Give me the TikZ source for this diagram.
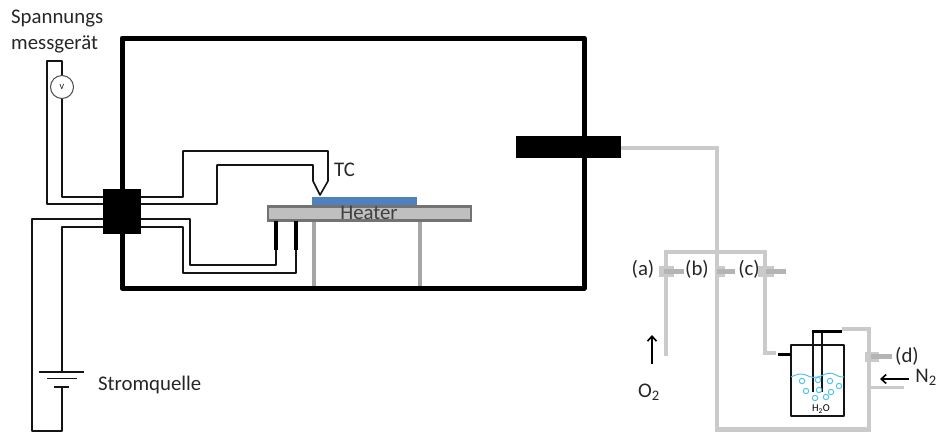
\documentclass[tikz,border=0pt]{standalone}
\usepackage{fontspec}
\usetikzlibrary{arrows.meta}
\setmainfont{Carlito}
\begin{document}
\begin{tikzpicture}[x=1pt,y=-1pt,
  wire/.style={draw=black!92,line width=1.6pt,line join=round},
  lead/.style={draw=black,line width=4.5pt},
  gas/.style={draw=gaslight,line width=4.5pt,line join=miter},
  stub/.style={draw=gasdark,line width=5.5pt},
  leg/.style={draw=leggray,line width=4pt},
  lab/.style={inner sep=0pt,font=\fontsize{20.8}{24}\selectfont,text=black!85},
  bubble/.style={draw=waterblue,line width=1pt,fill=white},
  block/.style={fill=black,draw=none,inner sep=0pt},
  barb/.style={-{Straight Barb[length=5pt,width=9pt]},line width=1.6pt}]
\definecolor{gaslight}{HTML}{CACACA}
\definecolor{gasdark}{HTML}{B4B4B4}
\definecolor{leggray}{HTML}{A6A6A6}
\definecolor{waterblue}{HTML}{4FC3EE}
\definecolor{samplecol}{HTML}{4F81BD}
\useasboundingbox (0,0) rectangle (936,432);
% gas lines
\draw[gas] (621,148) -- (717,148) -- (717,429.5) -- (869,429.5) -- (869,329) -- (842,329);
\draw[gas] (666,356) -- (666,252) -- (765,252) -- (765,353) -- (776,353);
\draw[gas,line width=3.5pt] (869,387.5) -- (904,387.5);
% valves
\fill[gaslight] (659,266) rectangle (674,277);
\fill[gaslight] (715,266) rectangle (725,277);
\fill[gaslight] (758,266) rectangle (774,277);
\fill[gaslight] (865,352) rectangle (879,362);
\draw[stub] (664,271.5) -- (684,271.5);
\draw[stub] (717,271.5) -- (735,271.5);
\draw[stub] (766,271.5) -- (786,271.5);
\draw[stub] (871,356.5) -- (892,356.5);
% chamber
\draw[line width=5pt,line join=round] (122,38) rectangle (584,288);
\node[block,minimum width=38pt,minimum height=45pt] (feed) at (122,211.5) {};
\node[block,minimum width=105pt,minimum height=22pt] (port) at (568.5,147) {};
% heater
\draw[leg] (314,221) -- (314,286);
\draw[leg] (420,221) -- (420,286);
\fill[samplecol] (312,197) rectangle (417,205);
\node[fill=black!25,draw=black!55,line width=2.8pt,minimum width=203pt,minimum height=14pt,inner sep=0pt,anchor=north west] (heater) at (266.5,205) {};
\node[lab,text=black!75] (heatertext) at (369,213) {Heater};
% TC wires
\draw[wire] (103,204) -- (47,204) -- (47,61) -- (62,61) -- (62,76);
\draw[wire] (62,98.5) -- (62,197) -- (103,197);
\draw[wire] (141,197) -- (183,197) -- (183,151) -- (328,151) -- (328,181) -- (320,195) -- (313,181) -- (313,165) -- (217,165) -- (217,204) -- (141,204);
\node[draw=black!70,line width=1pt,circle,minimum size=23pt,inner sep=0pt,font=\fontsize{8}{9}\selectfont] (volt) at (62,87) {V};
% heater leads
\draw[wire] (141,219) -- (190,219) -- (190,265) -- (276,265) -- (276,250);
\draw[wire] (141,227) -- (183,227) -- (183,273) -- (296,273) -- (296,250);
\draw[lead] (276,221) -- (276,250);
\draw[lead] (296,221) -- (296,250);
% power source
\draw[wire] (103,219) -- (32,219) -- (32,431) -- (62,431) -- (62,387);
\draw[wire] (103,227) -- (62,227) -- (62,372);
\draw[wire] (39,372) -- (84,372);
\draw[wire] (47,378.5) -- (77,378.5);
\draw[wire] (54,387) -- (69,387);
% bubbler
\draw[wire] (791,345) rectangle (844,416);
\draw[wire] (813,392) -- (813,331);
\draw[wire] (822,333) -- (822,392);
\draw[lead,line width=3pt] (812,331.5) -- (842,331.5);
\draw[lead,line width=3pt] (778,354) -- (791,354);
\draw[waterblue,line width=1pt] (791,377) .. controls (797,374) and (801,373) .. (806,375) .. controls (811,378) and (816,378) .. (821,376) .. controls (826,373) and (832,372) .. (836,375) .. controls (839,377) and (842,377) .. (844,377);
\foreach \bx/\by in {802/381,818/380,830/381,839/386,806/391,819/390,831/392,826/397,815/398}
  \draw[bubble] (\bx,\by) circle (2.7pt);
\node[inner sep=0pt,font=\fontsize{10.5}{12}\selectfont] (water) at (821,409) {H\textsubscript{2}O};
% labels
\node[lab,anchor=west] (sp) at (11,19) {Spannungs};
\node[lab,anchor=west] (mg) at (11,44) {messgerät};
\node[lab,anchor=west] (sq) at (98,385) {Stromquelle};
\node[lab,anchor=west] (tc) at (334,170) {TC};
\node[lab] (la) at (643,269) {(a)};
\node[lab] (lb) at (697,269) {(b)};
\node[lab] (lc) at (749,269) {(c)};
\node[lab] (ld) at (907,356) {(d)};
\node[lab] (nt) at (926,377) {N\textsubscript{2}};
\node[lab] (ox) at (649,392) {O\textsubscript{2}};
\coordinate (o1) at (652,364);
\coordinate (o2) at (652,335);
\coordinate (n1) at (909,379);
\coordinate (n2) at (880,379);
\draw[barb] (o1) -- (o2);
\draw[barb] (n1) -- (n2);
\end{tikzpicture}
\end{document}
